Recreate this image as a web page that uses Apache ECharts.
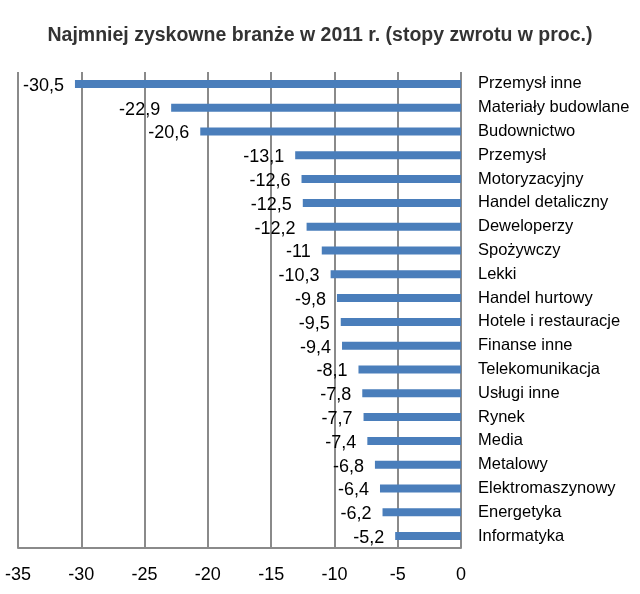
<!DOCTYPE html>
<html>
<head>
<meta charset="utf-8">
<script src="https://cdn.jsdelivr.net/npm/echarts@6/dist/echarts.min.js"></script>
<style>
  html, body { margin: 0; padding: 0; background: #fff; }
  #chart { width: 640px; height: 594px; }
</style>
</head>
<body>
<div id="chart"></div>
<script>
const TITLE = 'Najmniej zyskowne branże w 2011 r. (stopy zwrotu w proc.)'

const categories = [
  'Przemysł inne', 'Materiały budowlane', 'Budownictwo', 'Przemysł',
  'Motoryzacyjny', 'Handel detaliczny', 'Deweloperzy', 'Spożywczy',
  'Lekki', 'Handel hurtowy', 'Hotele i restauracje', 'Finanse inne',
  'Telekomunikacja', 'Usługi inne', 'Rynek', 'Media', 'Metalowy',
  'Elektromaszynowy', 'Energetyka', 'Informatyka'
]

const values = [
  -30.5, -22.9, -20.6, -13.1, -12.6, -12.5, -12.2, -11,
  -10.3, -9.8, -9.5, -9.4, -8.1, -7.8, -7.7, -7.4, -6.8,
  -6.4, -6.2, -5.2
]

const FONT = 'Liberation Sans, Arial, sans-serif'
const GRID_COLOR = '#8a8a8a'

const chart = echarts.init(document.getElementById('chart'))

chart.setOption({
  animation: false,
  title: {
    text: TITLE,
    left: 'center',
    top: 21,
    textStyle: { fontFamily: FONT, fontSize: 19.5, fontWeight: 'bold', color: '#333' },
  },
  grid: { left: 18, right: 179, top: 72, bottom: 46 },
  xAxis: {
    type: 'value',
    min: -35,
    max: 0,
    interval: 5,
    axisLine: { show: true, lineStyle: { color: GRID_COLOR, width: 2 } },
    axisTick: { show: false },
    axisLabel: { margin: 18, fontFamily: FONT, fontSize: 18, color: '#000' },
    splitLine: { show: true, lineStyle: { color: GRID_COLOR, width: 2 } },
  },
  yAxis: {
    type: 'category',
    data: categories,
    inverse: true,
    position: 'right',
    axisLine: { show: false },
    axisTick: { show: false },
    axisLabel: { margin: 17, align: 'left', fontFamily: FONT, fontSize: 16.5, color: '#000' },
  },
  series: [
    {
      type: 'bar',
      data: values,
      barWidth: 8,
      itemStyle: { color: '#4a7ebb' },
      label: {
        show: true,
        position: 'left',
        distance: 11,
        offset: [0, 2],
        fontFamily: FONT,
        fontSize: 18,
        color: '#000',
        formatter: p => String(p.value).replace('.', ','),
      },
    },
  ],
})
</script>
</body>
</html>
